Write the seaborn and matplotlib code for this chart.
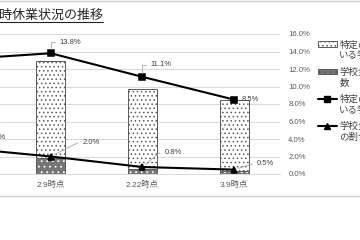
import matplotlib
matplotlib.use("Agg")
import matplotlib.pyplot as plt
import numpy as np
import pandas as pd
import seaborn as sns
from matplotlib.patches import Patch
from matplotlib.lines import Line2D
from matplotlib.legend_handler import HandlerPatch, HandlerLine2D
from matplotlib.transforms import Affine2D
from matplotlib.ticker import FuncFormatter, MultipleLocator

# ---------------- data ----------------
categories = ["2.25時点", "2.9時点", "2.22時点", "3.9時点"]
specific_schools = [11.5, 12.9, 9.7, 8.5]      # bars (dotted)
whole_schools = [2.6, 1.8, 0.6, 0.3]           # bars (dark)
specific_rate = [13.1, 13.8, 11.1, 8.5]        # line with squares (%)
whole_rate = [3.0, 2.0, 0.8, 0.5]              # line with triangles (%)
y_ticks = [0, 2, 4, 6, 8, 10, 12, 14, 16]
title = "臨時休業状況の推移"
legend_labels = [
    "特定の学年・学級で臨時休業して\nいる学校数",
    "学校全体で臨時休業している学校\n数",
    "特定の学年・学級で臨時休業して\nいる学校の割合",
    "学校全体で臨時休業している学校\nの割合",
]

# ---------------- style ----------------
sns.set_style("white")
plt.rcParams["font.family"] = ["Liberation Sans", "Noto Sans CJK JP", "DejaVu Sans"]
plt.rcParams["hatch.linewidth"] = 0.6

W, H, DPI = 360, 240, 100
fig = plt.figure(figsize=(W / DPI, H / DPI), dpi=DPI)
ax = fig.add_axes([0, 66 / H, 280 / W, 140 / H])

df = pd.DataFrame({"cat": categories, "spec": specific_schools, "whole": whole_schools,
                   "srate": specific_rate, "wrate": whole_rate})

GRID = "#d9d9d9"
ax.set_axisbelow(True)
ax.yaxis.grid(True, color=GRID, lw=0.75)

# bars
sns.barplot(data=df, x="cat", y="spec", order=categories, ax=ax, width=0.315,
            color="white", edgecolor="#595959", linewidth=0.7, hatch="....")
sns.barplot(data=df, x="cat", y="whole", order=categories, ax=ax, width=0.315,
            color="#767676", edgecolor="white", linewidth=0.5, hatch="...")
sns.barplot(data=df, x="cat", y="whole", order=categories, ax=ax, width=0.315,
            fill=False, color="#595959", linewidth=0.7)

# lines
sns.pointplot(data=df, x="cat", y="srate", order=categories, ax=ax, color="black",
              markers="s", markersize=4.5, linewidth=1.5, errorbar=None)
sns.pointplot(data=df, x="cat", y="wrate", order=categories, ax=ax, color="black",
              markers="^", markersize=4.5, linewidth=1.5, errorbar=None)

ax.set_xlim(0.446, 3.5)
ax.set_ylim(y_ticks[0], y_ticks[-1])
ax.set_yticks(y_ticks)
ax.yaxis.tick_right()
ax.yaxis.set_major_formatter(FuncFormatter(lambda v, p: f"{v:.1f}%"))
ax.tick_params(axis="y", length=0, pad=6, labelsize=5.6, colors="#595959")
ax.tick_params(axis="x", length=0, pad=5, labelsize=6.0, colors="#595959")
ax.set_xlabel("")
ax.set_ylabel("")
for s in ["top", "left", "right"]:
    ax.spines[s].set_visible(False)
ax.spines["bottom"].set_color(GRID)
ax.spines["bottom"].set_linewidth(0.75)

# data labels
LBL = dict(fontsize=5.5, color="#404040", textcoords="offset pixels",
           annotation_clip=False, va="center", ha="left")
LEAD = dict(arrowstyle="-", color="#a6a6a6", lw=0.6, shrinkA=1, shrinkB=3, relpos=(0, 0.5))
sq_off = [(9, 12), (9, 11), (8, 12), (7, 0)]
for i, v in enumerate(specific_rate):
    dx, dy = sq_off[i]
    ap = None if dy == 0 else dict(LEAD, connectionstyle="angle,angleA=0,angleB=90,rad=0")
    ax.annotate(f"{v:.1f}%", xy=(i, v), xytext=(dx, dy), arrowprops=ap, **LBL)
tri_off = [(30, 10, 30), (32, 14, 27), (22, 14, 40), (23, 6, 17)]
for i, v in enumerate(whole_rate):
    dx, dy, ang = tri_off[i]
    ap = dict(LEAD, connectionstyle=f"angle,angleA=0,angleB={ang},rad=0")
    ax.annotate(f"{v:.1f}%", xy=(i, v), xytext=(dx, dy), arrowprops=ap, **LBL)

# legend with handles aligned to the first text line
SHIFT = 4.3


class ShiftPatch(HandlerPatch):
    def create_artists(self, legend, orig_handle, xd, yd, w, h, fs, trans):
        return super().create_artists(legend, orig_handle, xd, yd, w, h, fs,
                                      Affine2D().translate(0, SHIFT) + trans)


class ShiftLine(HandlerLine2D):
    def create_artists(self, legend, orig_handle, xd, yd, w, h, fs, trans):
        return super().create_artists(legend, orig_handle, xd, yd, w, h, fs,
                                      Affine2D().translate(0, SHIFT) + trans)


h1 = Patch(facecolor="white", edgecolor="#595959", hatch="....", lw=0.7)
h2 = Patch(facecolor="#767676", edgecolor="#595959", hatch="...", lw=0.7)
h3 = Line2D([], [], color="black", lw=1.5, marker="s", markersize=4.5)
h4 = Line2D([], [], color="black", lw=1.5, marker="^", markersize=4.5)
leg = ax.legend([h1, h2, h3, h4], legend_labels, loc="upper left",
                bbox_to_anchor=(318 / W, 200 / H), bbox_transform=fig.transFigure,
                frameon=False, borderpad=0, borderaxespad=0, fontsize=6.8,
                handlelength=2.0, handleheight=0.55, handletextpad=0.25,
                labelspacing=0.75,
                handler_map={Patch: ShiftPatch(), Line2D: ShiftLine()})
for t in leg.get_texts():
    t.set_color("#404040")

# title with underline
tt = fig.text(-14 / W, 1 - 15 / H, title, fontsize=9.4, va="center", ha="left",
              color="#262626", family=["Noto Sans CJK JP", "DejaVu Sans"])
fig.canvas.draw()
bb = tt.get_window_extent()
fig.add_artist(Line2D([bb.x0 / W, bb.x1 / W], [(bb.y0 - 0.5) / H] * 2,
                      transform=fig.transFigure, color="#262626", lw=0.8))

# chart border lines
for yy in [1 - 0.8 / H, 1 - 195.5 / H]:
    fig.add_artist(Line2D([0, 1], [yy, yy], transform=fig.transFigure,
                          color="#d0d0d0", lw=1.0))

fig.savefig("out.png", dpi=DPI)
